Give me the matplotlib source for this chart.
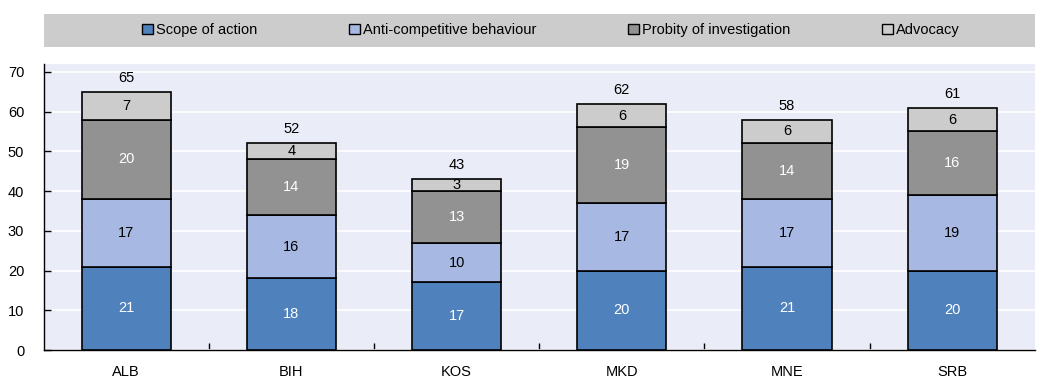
import numpy as np
import matplotlib.pyplot as plt
from matplotlib.patches import Rectangle, Patch
from matplotlib import font_manager

# font: narrow Arial look-alike if present
names = {f.name for f in font_manager.fontManager.ttflist}
family = 'Liberation Sans Narrow' if 'Liberation Sans Narrow' in names else 'Liberation Sans'
plt.rcParams['font.family'] = [family, 'DejaVu Sans']
plt.rcParams['font.size'] = 10.5

countries = ['ALB', 'BIH', 'KOS', 'MKD', 'MNE', 'SRB']
scope = [21, 18, 17, 20, 21, 20]
anti_comp = [17, 16, 10, 17, 17, 19]
probity = [20, 14, 13, 19, 14, 16]
advocacy = [7, 4, 3, 6, 6, 6]

series = [
    ('Scope of action', scope, '#4F81BD', 'white'),
    ('Anti-competitive behaviour', anti_comp, '#A7B9E3', 'black'),
    ('Probity of investigation', probity, '#929292', 'white'),
    ('Advocacy', advocacy, '#CCCCCC', 'black'),
]

fig = plt.figure(figsize=(10.4, 3.78), dpi=100)
ax = fig.add_axes([0.042, 0.074, 0.953, 0.757])
ax.set_facecolor('#EAEDF7')

x = np.arange(len(countries))
bottom = np.zeros(len(countries))
for name, vals, color, tcol in series:
    vals = np.array(vals)
    ax.bar(x, vals, 0.54, bottom=bottom, color=color, edgecolor='black',
           linewidth=1.2, label=name, zorder=3)
    for xi, b, v in zip(x, bottom, vals):
        ax.text(xi, b + v / 2, str(v), ha='center', va='center', color=tcol, zorder=4)
    bottom = bottom + vals

for xi, tot in zip(x, bottom):
    ax.annotate(f'{int(tot)}', (xi, tot), xytext=(0, 5), textcoords='offset points',
                ha='center', va='bottom')

ax.set_xlim(-0.5, len(countries) - 0.5)
ax.set_ylim(0, 72)
ax.set_yticks(range(0, 71, 10))
ax.yaxis.grid(True, color='white', linewidth=1.2, zorder=0)
ax.set_axisbelow(True)
ax.set_xticks(x)
ax.set_xticklabels(countries)
ax.set_xticks(np.arange(0.5, len(countries) - 0.5), minor=True)
ax.tick_params(axis='x', which='major', length=0, pad=11)
ax.tick_params(axis='x', which='minor', direction='in', length=5, width=1)
ax.tick_params(axis='y', direction='in', length=5, width=1, pad=14)
for s in ['top', 'right']:
    ax.spines[s].set_visible(False)
ax.spines['left'].set_linewidth(1)
ax.spines['bottom'].set_linewidth(1)

# legend band
fig.patches.append(Rectangle((0.042, 0.876), 0.953, 0.087, transform=fig.transFigure,
                             facecolor='#CCCCCC', edgecolor='none'))
handles = [Patch(facecolor=c, edgecolor='black', linewidth=1) for _, _, c, _ in series]
fig.legend(handles, [s[0] for s in series], loc='center', bbox_to_anchor=(0.53, 0.92),
           ncol=4, frameon=False, handlelength=0.7, handleheight=0.7,
           handletextpad=0.25, columnspacing=6.3)

fig.savefig('out.png', dpi=100)
